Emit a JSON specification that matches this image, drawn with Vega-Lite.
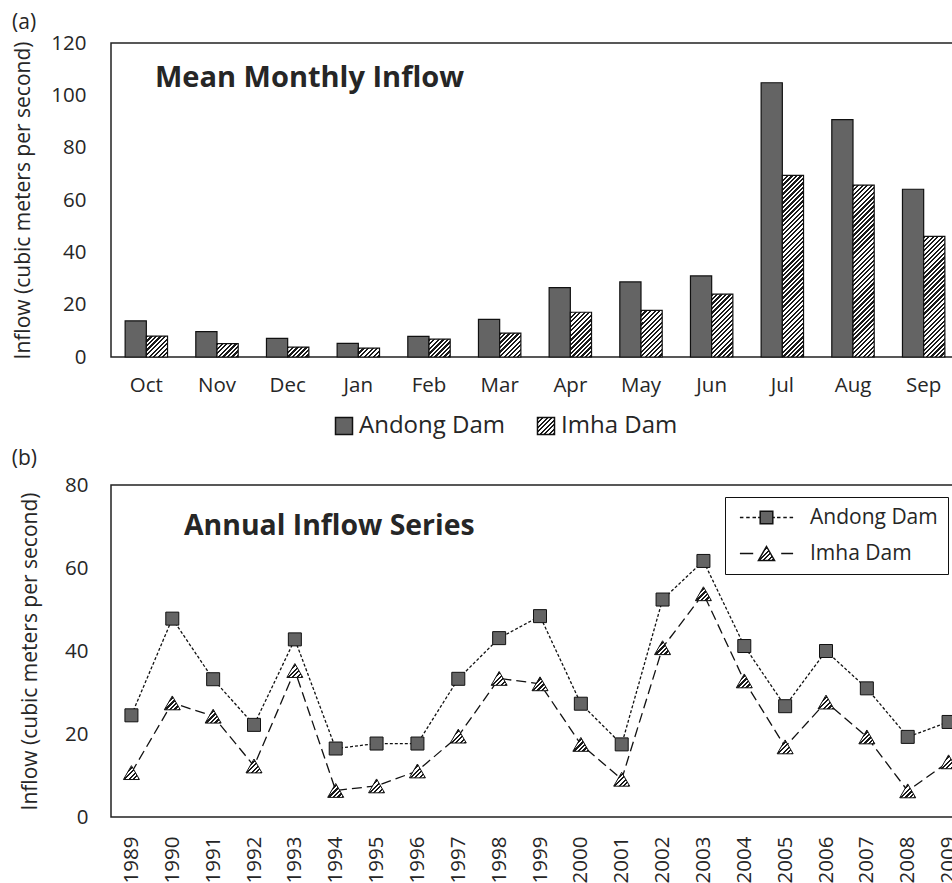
{
  "$schema": "https://vega.github.io/schema/vega-lite/v6.json",
  "padding": {"left": 11, "top": 12, "right": 0, "bottom": 0},
  "config": {
    "font": "Open Sans",
    "view": {"stroke": "#222", "strokeWidth": 1.5},
    "axis": {"grid": false, "ticks": false, "domain": false, "labelColor": "#262626", "titleColor": "#262626", "labelFontSize": 20.5, "titleFontSize": 21, "titleFontWeight": "normal"},
    "legend": {"labelColor": "#262626"},
    "title": {"color": "#262626"}
  },
  "params": [
    {"name": "hatch", "value": {"gradient": "linear", "x1": 0, "y1": 0, "x2": 1, "y2": 1, "stops": [
      {"offset":0,"color":"#1a1a1a"},{"offset":0.01,"color":"#1a1a1a"},{"offset":0.01,"color":"#fff"},{"offset":0.02,"color":"#fff"},
      {"offset":0.02,"color":"#1a1a1a"},{"offset":0.03,"color":"#1a1a1a"},{"offset":0.03,"color":"#fff"},{"offset":0.04,"color":"#fff"},
      {"offset":0.04,"color":"#1a1a1a"},{"offset":0.05,"color":"#1a1a1a"},{"offset":0.05,"color":"#fff"},{"offset":0.06,"color":"#fff"},
      {"offset":0.06,"color":"#1a1a1a"},{"offset":0.07,"color":"#1a1a1a"},{"offset":0.07,"color":"#fff"},{"offset":0.08,"color":"#fff"},
      {"offset":0.08,"color":"#1a1a1a"},{"offset":0.09,"color":"#1a1a1a"},{"offset":0.09,"color":"#fff"},{"offset":0.1,"color":"#fff"},
      {"offset":0.1,"color":"#1a1a1a"},{"offset":0.11,"color":"#1a1a1a"},{"offset":0.11,"color":"#fff"},{"offset":0.12,"color":"#fff"},
      {"offset":0.12,"color":"#1a1a1a"},{"offset":0.13,"color":"#1a1a1a"},{"offset":0.13,"color":"#fff"},{"offset":0.14,"color":"#fff"},
      {"offset":0.14,"color":"#1a1a1a"},{"offset":0.15,"color":"#1a1a1a"},{"offset":0.15,"color":"#fff"},{"offset":0.16,"color":"#fff"},
      {"offset":0.16,"color":"#1a1a1a"},{"offset":0.17,"color":"#1a1a1a"},{"offset":0.17,"color":"#fff"},{"offset":0.18,"color":"#fff"},
      {"offset":0.18,"color":"#1a1a1a"},{"offset":0.19,"color":"#1a1a1a"},{"offset":0.19,"color":"#fff"},{"offset":0.2,"color":"#fff"},
      {"offset":0.2,"color":"#1a1a1a"},{"offset":0.21,"color":"#1a1a1a"},{"offset":0.21,"color":"#fff"},{"offset":0.22,"color":"#fff"},
      {"offset":0.22,"color":"#1a1a1a"},{"offset":0.23,"color":"#1a1a1a"},{"offset":0.23,"color":"#fff"},{"offset":0.24,"color":"#fff"},
      {"offset":0.24,"color":"#1a1a1a"},{"offset":0.25,"color":"#1a1a1a"},{"offset":0.25,"color":"#fff"},{"offset":0.26,"color":"#fff"},
      {"offset":0.26,"color":"#1a1a1a"},{"offset":0.27,"color":"#1a1a1a"},{"offset":0.27,"color":"#fff"},{"offset":0.28,"color":"#fff"},
      {"offset":0.28,"color":"#1a1a1a"},{"offset":0.29,"color":"#1a1a1a"},{"offset":0.29,"color":"#fff"},{"offset":0.3,"color":"#fff"},
      {"offset":0.3,"color":"#1a1a1a"},{"offset":0.31,"color":"#1a1a1a"},{"offset":0.31,"color":"#fff"},{"offset":0.32,"color":"#fff"},
      {"offset":0.32,"color":"#1a1a1a"},{"offset":0.33,"color":"#1a1a1a"},{"offset":0.33,"color":"#fff"},{"offset":0.34,"color":"#fff"},
      {"offset":0.34,"color":"#1a1a1a"},{"offset":0.35,"color":"#1a1a1a"},{"offset":0.35,"color":"#fff"},{"offset":0.36,"color":"#fff"},
      {"offset":0.36,"color":"#1a1a1a"},{"offset":0.37,"color":"#1a1a1a"},{"offset":0.37,"color":"#fff"},{"offset":0.38,"color":"#fff"},
      {"offset":0.38,"color":"#1a1a1a"},{"offset":0.39,"color":"#1a1a1a"},{"offset":0.39,"color":"#fff"},{"offset":0.4,"color":"#fff"},
      {"offset":0.4,"color":"#1a1a1a"},{"offset":0.41,"color":"#1a1a1a"},{"offset":0.41,"color":"#fff"},{"offset":0.42,"color":"#fff"},
      {"offset":0.42,"color":"#1a1a1a"},{"offset":0.43,"color":"#1a1a1a"},{"offset":0.43,"color":"#fff"},{"offset":0.44,"color":"#fff"},
      {"offset":0.44,"color":"#1a1a1a"},{"offset":0.45,"color":"#1a1a1a"},{"offset":0.45,"color":"#fff"},{"offset":0.46,"color":"#fff"},
      {"offset":0.46,"color":"#1a1a1a"},{"offset":0.47,"color":"#1a1a1a"},{"offset":0.47,"color":"#fff"},{"offset":0.48,"color":"#fff"},
      {"offset":0.48,"color":"#1a1a1a"},{"offset":0.49,"color":"#1a1a1a"},{"offset":0.49,"color":"#fff"},{"offset":0.5,"color":"#fff"},
      {"offset":0.5,"color":"#1a1a1a"},{"offset":0.51,"color":"#1a1a1a"},{"offset":0.51,"color":"#fff"},{"offset":0.52,"color":"#fff"},
      {"offset":0.52,"color":"#1a1a1a"},{"offset":0.53,"color":"#1a1a1a"},{"offset":0.53,"color":"#fff"},{"offset":0.54,"color":"#fff"},
      {"offset":0.54,"color":"#1a1a1a"},{"offset":0.55,"color":"#1a1a1a"},{"offset":0.55,"color":"#fff"},{"offset":0.56,"color":"#fff"},
      {"offset":0.56,"color":"#1a1a1a"},{"offset":0.57,"color":"#1a1a1a"},{"offset":0.57,"color":"#fff"},{"offset":0.58,"color":"#fff"},
      {"offset":0.58,"color":"#1a1a1a"},{"offset":0.59,"color":"#1a1a1a"},{"offset":0.59,"color":"#fff"},{"offset":0.6,"color":"#fff"},
      {"offset":0.6,"color":"#1a1a1a"},{"offset":0.61,"color":"#1a1a1a"},{"offset":0.61,"color":"#fff"},{"offset":0.62,"color":"#fff"},
      {"offset":0.62,"color":"#1a1a1a"},{"offset":0.63,"color":"#1a1a1a"},{"offset":0.63,"color":"#fff"},{"offset":0.64,"color":"#fff"},
      {"offset":0.64,"color":"#1a1a1a"},{"offset":0.65,"color":"#1a1a1a"},{"offset":0.65,"color":"#fff"},{"offset":0.66,"color":"#fff"},
      {"offset":0.66,"color":"#1a1a1a"},{"offset":0.67,"color":"#1a1a1a"},{"offset":0.67,"color":"#fff"},{"offset":0.68,"color":"#fff"},
      {"offset":0.68,"color":"#1a1a1a"},{"offset":0.69,"color":"#1a1a1a"},{"offset":0.69,"color":"#fff"},{"offset":0.7,"color":"#fff"},
      {"offset":0.7,"color":"#1a1a1a"},{"offset":0.71,"color":"#1a1a1a"},{"offset":0.71,"color":"#fff"},{"offset":0.72,"color":"#fff"},
      {"offset":0.72,"color":"#1a1a1a"},{"offset":0.73,"color":"#1a1a1a"},{"offset":0.73,"color":"#fff"},{"offset":0.74,"color":"#fff"},
      {"offset":0.74,"color":"#1a1a1a"},{"offset":0.75,"color":"#1a1a1a"},{"offset":0.75,"color":"#fff"},{"offset":0.76,"color":"#fff"},
      {"offset":0.76,"color":"#1a1a1a"},{"offset":0.77,"color":"#1a1a1a"},{"offset":0.77,"color":"#fff"},{"offset":0.78,"color":"#fff"},
      {"offset":0.78,"color":"#1a1a1a"},{"offset":0.79,"color":"#1a1a1a"},{"offset":0.79,"color":"#fff"},{"offset":0.8,"color":"#fff"},
      {"offset":0.8,"color":"#1a1a1a"},{"offset":0.81,"color":"#1a1a1a"},{"offset":0.81,"color":"#fff"},{"offset":0.82,"color":"#fff"},
      {"offset":0.82,"color":"#1a1a1a"},{"offset":0.83,"color":"#1a1a1a"},{"offset":0.83,"color":"#fff"},{"offset":0.84,"color":"#fff"},
      {"offset":0.84,"color":"#1a1a1a"},{"offset":0.85,"color":"#1a1a1a"},{"offset":0.85,"color":"#fff"},{"offset":0.86,"color":"#fff"},
      {"offset":0.86,"color":"#1a1a1a"},{"offset":0.87,"color":"#1a1a1a"},{"offset":0.87,"color":"#fff"},{"offset":0.88,"color":"#fff"},
      {"offset":0.88,"color":"#1a1a1a"},{"offset":0.89,"color":"#1a1a1a"},{"offset":0.89,"color":"#fff"},{"offset":0.9,"color":"#fff"},
      {"offset":0.9,"color":"#1a1a1a"},{"offset":0.91,"color":"#1a1a1a"},{"offset":0.91,"color":"#fff"},{"offset":0.92,"color":"#fff"},
      {"offset":0.92,"color":"#1a1a1a"},{"offset":0.93,"color":"#1a1a1a"},{"offset":0.93,"color":"#fff"},{"offset":0.94,"color":"#fff"},
      {"offset":0.94,"color":"#1a1a1a"},{"offset":0.95,"color":"#1a1a1a"},{"offset":0.95,"color":"#fff"},{"offset":0.96,"color":"#fff"},
      {"offset":0.96,"color":"#1a1a1a"},{"offset":0.97,"color":"#1a1a1a"},{"offset":0.97,"color":"#fff"},{"offset":0.98,"color":"#fff"},
      {"offset":0.98,"color":"#1a1a1a"},{"offset":0.99,"color":"#1a1a1a"},{"offset":0.99,"color":"#fff"},{"offset":1,"color":"#fff"}
    ]}}
  ],
  "concat": [
    {
      "title": {"text": "(a)", "anchor": "start", "frame": "bounds", "fontSize": 21, "fontWeight": "normal", "offset": -1},
      "resolve": {"scale": {"fill": "independent"}, "legend": {"fill": "independent"}},
      "vconcat": [
        {
          "width": 848,
          "height": 314,
          "title": {"text": "Mean Monthly Inflow", "anchor": "start", "frame": "group", "dx": 44, "offset": -60, "fontSize": 29, "fontWeight": "bold"},
          "data": {"values": [
            {"month": "Oct", "dam": "Andong Dam", "inflow": 13.8}, {"month": "Oct", "dam": "Imha Dam", "inflow": 8.0},
            {"month": "Nov", "dam": "Andong Dam", "inflow": 9.7}, {"month": "Nov", "dam": "Imha Dam", "inflow": 5.1},
            {"month": "Dec", "dam": "Andong Dam", "inflow": 7.1}, {"month": "Dec", "dam": "Imha Dam", "inflow": 3.8},
            {"month": "Jan", "dam": "Andong Dam", "inflow": 5.2}, {"month": "Jan", "dam": "Imha Dam", "inflow": 3.4},
            {"month": "Feb", "dam": "Andong Dam", "inflow": 7.9}, {"month": "Feb", "dam": "Imha Dam", "inflow": 6.8},
            {"month": "Mar", "dam": "Andong Dam", "inflow": 14.4}, {"month": "Mar", "dam": "Imha Dam", "inflow": 9.1},
            {"month": "Apr", "dam": "Andong Dam", "inflow": 26.5}, {"month": "Apr", "dam": "Imha Dam", "inflow": 17.1},
            {"month": "May", "dam": "Andong Dam", "inflow": 28.7}, {"month": "May", "dam": "Imha Dam", "inflow": 17.8},
            {"month": "Jun", "dam": "Andong Dam", "inflow": 31.0}, {"month": "Jun", "dam": "Imha Dam", "inflow": 24.0},
            {"month": "Jul", "dam": "Andong Dam", "inflow": 104.8}, {"month": "Jul", "dam": "Imha Dam", "inflow": 69.4},
            {"month": "Aug", "dam": "Andong Dam", "inflow": 90.7}, {"month": "Aug", "dam": "Imha Dam", "inflow": 65.7},
            {"month": "Sep", "dam": "Andong Dam", "inflow": 64.1}, {"month": "Sep", "dam": "Imha Dam", "inflow": 46.1}
          ]},
          "mark": {"type": "bar", "stroke": "#111", "strokeWidth": 1.2},
          "encoding": {
            "x": {"field": "month", "type": "nominal", "sort": ["Oct","Nov","Dec","Jan","Feb","Mar","Apr","May","Jun","Jul","Aug","Sep"],
                  "scale": {"paddingInner": 0.4, "paddingOuter": 0.2},
                  "axis": {"title": null, "labelAngle": 0, "labelPadding": 18}},
            "xOffset": {"field": "dam", "type": "nominal", "scale": {"paddingInner": 0, "paddingOuter": 0}},
            "y": {"field": "inflow", "type": "quantitative", "scale": {"domain": [0, 120], "nice": false},
                  "axis": {"title": "Inflow (cubic meters per second)", "values": [0,20,40,60,80,100,120], "labelPadding": 25, "titlePadding": 17}},
            "fill": {
              "field": "dam", "type": "nominal",
              "scale": {"domain": ["Andong Dam", "Imha Dam"], "range": ["#646464", {"expr": "merge(hatch, {x2: 6.65, y2: 6.65})"}]},
              "condition": {"test": "datum.dam === 'Imha Dam'", "value": {"expr": "merge(hatch, {x2: 4797/(449.4 + pow(2.6167*datum.inflow, 2)), y2: 592.1*datum.inflow/(449.4 + pow(2.6167*datum.inflow, 2))})"}},
              "legend": {
                "orient": "none", "legendX": 221, "legendY": 371, "direction": "horizontal", "title": null,
                "symbolType": "square", "symbolSize": 289,
                "labelFontSize": 24, "labelOffset": 3, "columnPadding": 29,
                "encode": {"symbols": {"update": {"stroke": {"value": "#111"}, "strokeWidth": {"value": 1.2}}}}
              }
            }
          }
        }
      ]
    },
    {
      "title": {"text": "(b)", "anchor": "start", "frame": "bounds", "fontSize": 21, "fontWeight": "normal", "offset": 5, "dx": -7},
      "resolve": {"scale": {"shape": "independent", "fill": "independent"}, "legend": {"shape": "independent", "fill": "independent"}},
      "vconcat": [
        {
          "width": 858,
          "height": 332,
          "title": {"text": "Annual Inflow Series", "anchor": "start", "frame": "group", "dx": 73, "offset": -66, "fontSize": 28.4, "fontWeight": "bold"},
          "data": {"values": [
            {"year": "1989", "dam": "Andong Dam", "inflow": 24.5}, {"year": "1989", "dam": "Imha Dam", "inflow": 10.7},
            {"year": "1990", "dam": "Andong Dam", "inflow": 47.8}, {"year": "1990", "dam": "Imha Dam", "inflow": 27.5},
            {"year": "1991", "dam": "Andong Dam", "inflow": 33.2}, {"year": "1991", "dam": "Imha Dam", "inflow": 24.3},
            {"year": "1992", "dam": "Andong Dam", "inflow": 22.2}, {"year": "1992", "dam": "Imha Dam", "inflow": 12.3},
            {"year": "1993", "dam": "Andong Dam", "inflow": 42.8}, {"year": "1993", "dam": "Imha Dam", "inflow": 35.3},
            {"year": "1994", "dam": "Andong Dam", "inflow": 16.5}, {"year": "1994", "dam": "Imha Dam", "inflow": 6.4},
            {"year": "1995", "dam": "Andong Dam", "inflow": 17.7}, {"year": "1995", "dam": "Imha Dam", "inflow": 7.5},
            {"year": "1996", "dam": "Andong Dam", "inflow": 17.7}, {"year": "1996", "dam": "Imha Dam", "inflow": 11.1},
            {"year": "1997", "dam": "Andong Dam", "inflow": 33.3}, {"year": "1997", "dam": "Imha Dam", "inflow": 19.5},
            {"year": "1998", "dam": "Andong Dam", "inflow": 43.1}, {"year": "1998", "dam": "Imha Dam", "inflow": 33.4},
            {"year": "1999", "dam": "Andong Dam", "inflow": 48.4}, {"year": "1999", "dam": "Imha Dam", "inflow": 32.1},
            {"year": "2000", "dam": "Andong Dam", "inflow": 27.3}, {"year": "2000", "dam": "Imha Dam", "inflow": 17.5},
            {"year": "2001", "dam": "Andong Dam", "inflow": 17.5}, {"year": "2001", "dam": "Imha Dam", "inflow": 9.1},
            {"year": "2002", "dam": "Andong Dam", "inflow": 52.4}, {"year": "2002", "dam": "Imha Dam", "inflow": 40.8},
            {"year": "2003", "dam": "Andong Dam", "inflow": 61.7}, {"year": "2003", "dam": "Imha Dam", "inflow": 53.8},
            {"year": "2004", "dam": "Andong Dam", "inflow": 41.2}, {"year": "2004", "dam": "Imha Dam", "inflow": 32.8},
            {"year": "2005", "dam": "Andong Dam", "inflow": 26.7}, {"year": "2005", "dam": "Imha Dam", "inflow": 16.9},
            {"year": "2006", "dam": "Andong Dam", "inflow": 40.0}, {"year": "2006", "dam": "Imha Dam", "inflow": 27.7},
            {"year": "2007", "dam": "Andong Dam", "inflow": 31.0}, {"year": "2007", "dam": "Imha Dam", "inflow": 19.3},
            {"year": "2008", "dam": "Andong Dam", "inflow": 19.3}, {"year": "2008", "dam": "Imha Dam", "inflow": 6.3},
            {"year": "2009", "dam": "Andong Dam", "inflow": 22.9}, {"year": "2009", "dam": "Imha Dam", "inflow": 13.3}
          ]},
          "encoding": {
            "x": {"field": "year", "type": "ordinal", "scale": {"type": "point", "padding": 0.5},
                  "axis": {"title": null, "labelAngle": -90, "labelPadding": 19}},
            "y": {"field": "inflow", "type": "quantitative", "scale": {"domain": [0, 80], "nice": false},
                  "axis": {"title": "Inflow (cubic meters per second)", "values": [0,20,40,60,80], "labelPadding": 23, "titlePadding": 24}}
          },
          "layer": [
            {
              "mark": {"type": "line", "color": "#111", "strokeWidth": 1.3},
              "encoding": {
                "detail": {"field": "dam"},
                "strokeDash": {"field": "dam", "type": "nominal", "scale": {"domain": ["Andong Dam", "Imha Dam"], "range": [[3, 2], [10, 5]]}, "legend": null}
              }
            },
            {
              "mark": {"type": "point", "filled": true, "opacity": 1, "stroke": "#111", "strokeWidth": 1},
              "encoding": {
                "size": {"condition": {"test": "datum.dam === 'Imha Dam'", "value": 256}, "value": 169},
                "fill": {
                  "field": "dam", "type": "nominal",
                  "scale": {"domain": ["Andong Dam", "Imha Dam"], "range": ["#646464", {"expr": "merge(hatch, {x2: 3.98, y2: 1.047})"}]},
                  "condition": {"test": "datum.dam === 'Imha Dam'", "value": {"expr": "merge(hatch, {x2: 8.08, y2: 7.0})"}},
                  "legend": {
                    "orient": "none", "legendX": 614, "legendY": 12, "title": null, "strokeColor": "#111", "fillColor": "#fff", "padding": 10,
                    "labelFontSize": 21, "rowPadding": 14, "symbolSize": 196, "symbolOffset": 21, "labelOffset": 33,
                    "encode": {"symbols": {"update": {"stroke": {"value": "#111"}, "strokeWidth": {"value": 1}}}}
                  }
                },
                "shape": {
                  "field": "dam", "type": "nominal",
                  "scale": {"domain": ["Andong Dam", "Imha Dam"], "range": [
                    "M-3.8,0H-3.3M-2.9,0H-2.4M-2,0H-1.5M-1.2,0H-0.9M0.9,0H1.2M1.5,0H2M2.4,0H2.9M3.3,0H3.8M-0.9,-0.9H0.9V0.9H-0.9Z",
                    "M-3.8,0H-1.9M2.1,0H3.8M0,-1L1.15,1H-1.15Z"
                  ]},
                  "condition": {"test": "true", "value": {"expr": "datum.dam === 'Imha Dam' ? 'triangle-up' : 'square'"}},
                  "legend": {
                    "orient": "none", "legendX": 614, "legendY": 12, "title": null, "strokeColor": "#111", "fillColor": "#fff", "padding": 10,
                    "labelFontSize": 21, "rowPadding": 14, "symbolSize": 196, "symbolOffset": 21, "labelOffset": 33,
                    "encode": {"symbols": {"update": {"stroke": {"value": "#111"}, "strokeWidth": {"value": 1}}}}
                  }
                }
              }
            }
          ]
        }
      ]
    }
  ],
  "columns": 1,
  "spacing": 9
}
